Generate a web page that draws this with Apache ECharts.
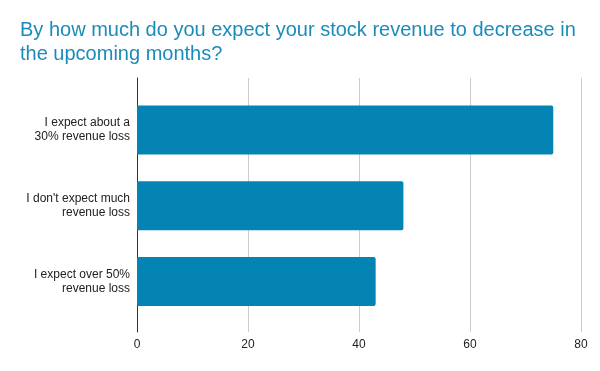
<!DOCTYPE html>
<html><head><meta charset="utf-8">
<script src="https://cdn.jsdelivr.net/npm/echarts@6/dist/echarts.min.js"></script>
<style>html,body{margin:0;padding:0;background:#fff}#c{width:600px;height:371px}</style>
</head><body><div id="c"></div>
<script>
var titleText = 'By how much do you expect your stock revenue to decrease in\nthe upcoming months?';
var categories = ['I expect about a\n30% revenue loss', "I don't expect much\nrevenue loss", 'I expect over 50%\nrevenue loss'];
var values = [75, 48, 43];
var xTicks = [0, 20, 40, 60, 80];

var font = 'Arial, "Liberation Sans", sans-serif';
var chart = echarts.init(document.getElementById('c'), null, {renderer: 'canvas'});
chart.setOption({
  animation: false,
  backgroundColor: '#fff',
  title: {
    text: titleText, left: 15, top: 13,
    textStyle: {color: '#1b8bbb', fontSize: 20, fontWeight: 'normal', fontFamily: font, lineHeight: 24.5}
  },
  grid: [
    {left: 137, right: 19, top: 78, bottom: 39},
    {left: 137, right: 19, top: 92, bottom: 51.5}
  ],
  xAxis: [
    {gridIndex: 0, type: 'value', min: xTicks[0], max: xTicks[xTicks.length - 1], interval: 20,
     axisLine: {show: false}, axisTick: {show: false},
     splitLine: {lineStyle: {color: '#cccccc', width: 1}},
     axisLabel: {color: '#222', fontSize: 12, fontFamily: font, margin: 7}},
    {gridIndex: 1, type: 'value', min: xTicks[0], max: xTicks[xTicks.length - 1], show: false}
  ],
  yAxis: [
    {gridIndex: 0, type: 'category', data: categories, inverse: true,
     axisLine: {show: true, lineStyle: {color: '#333', width: 1}},
     axisTick: {show: false}, axisLabel: {show: false}, splitLine: {show: false}},
    {gridIndex: 1, type: 'category', data: categories, inverse: true,
     axisLine: {show: false}, axisTick: {show: false},
     axisLabel: {color: '#222', fontSize: 12, fontFamily: font, margin: 7,
                 align: 'right', lineHeight: 14}}
  ],
  series: [{
    type: 'bar', xAxisIndex: 1, yAxisIndex: 1, data: values, barWidth: 49,
    itemStyle: {color: '#0384b3', borderRadius: [0, 2, 2, 0]}
  }]
});
</script></body></html>
